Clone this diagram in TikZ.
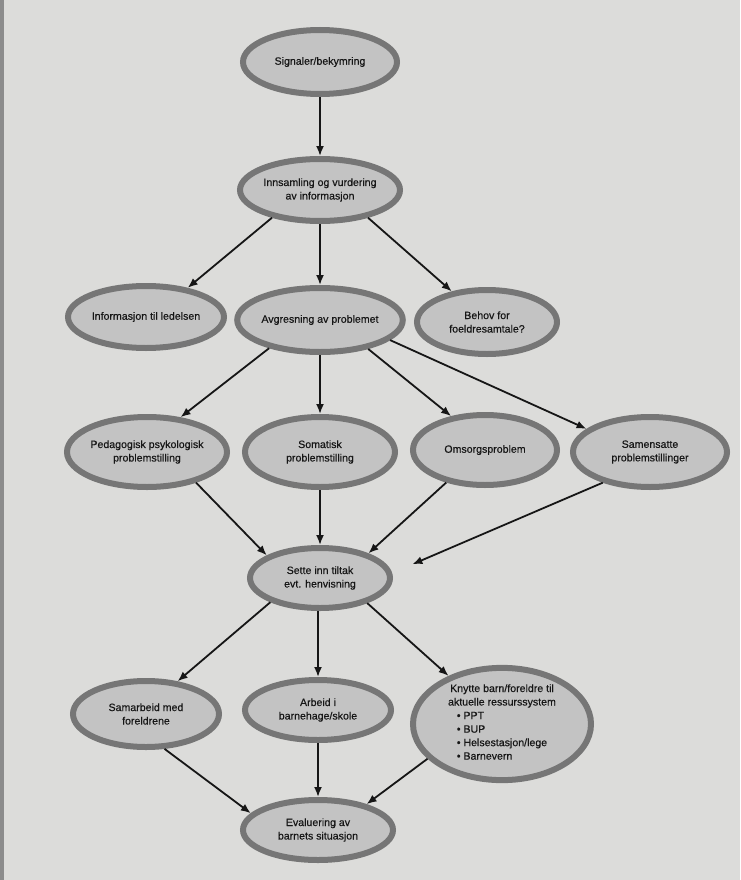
\documentclass[tikz,border=0pt]{standalone}
\usepackage{fontspec}
\setmainfont[FakeBold=0.4,AutoFakeBold=0.4]{Liberation Sans}
\usetikzlibrary{shapes.geometric,arrows.meta}
\definecolor{paper}{HTML}{DCDCDA}
\definecolor{rim}{HTML}{767676}
\definecolor{core}{HTML}{C3C3C3}
\definecolor{ink}{HTML}{161616}
\tikzset{
  bubble/.style={ellipse, draw=rim, line width=6pt, fill=core, inner sep=0pt,
    align=center, text=ink, font=\fontsize{10.6}{13.5}\selectfont\bfseries},
  flow/.style={draw=ink, line width=1.8pt, -{Latex[length=10pt,width=8pt]}},
}
\begin{document}
\begin{tikzpicture}[x=1pt,y=-1pt]
\fill[paper] (0,0) rectangle (740,880);
\fill[black!45] (0,0) rectangle (4,880);
\useasboundingbox (0,0) rectangle (740,880);

\node[bubble, minimum width=154pt, minimum height=64pt] (sig) at (320,62) {Signaler/bekymring};
\node[bubble, minimum width=150pt, minimum height=62pt] (inn) at (320,190) {Innsamling og vurdering\\av informasjon};

\node[bubble, minimum width=156pt, minimum height=62pt] (info) at (146,317) {Informasjon til ledelsen};
\node[bubble, minimum width=150pt, minimum height=64pt] (avg) at (320,320) {Avgresning av problemet};
\node[bubble, minimum width=140pt, minimum height=64pt] (beh) at (487,322) {Behov for\\foeldresamtale?};

\node[bubble, minimum width=158pt, minimum height=70pt] (ped) at (147,452) {Pedagogisk psykologisk\\problemstilling};
\node[bubble, minimum width=150pt, minimum height=70pt] (som) at (320,452) {Somatisk\\problemstilling};
\node[bubble, minimum width=144pt, minimum height=70pt] (oms) at (485,450) {Omsorgsproblem};
\node[bubble, minimum width=154pt, minimum height=70pt] (sam) at (650,452) {Samensatte\\problemstillinger};

\node[bubble, minimum width=140pt, minimum height=60pt] (sett) at (320,578) {Sette inn tiltak\\evt. henvisning};

\node[bubble, minimum width=146pt, minimum height=66pt] (samb) at (146,714) {Samarbeid med\\foreldrene};
\node[bubble, minimum width=146pt, minimum height=60pt] (arb) at (318,710) {Arbeid i\\barnehage/skole};
\node[bubble, minimum width=178pt, minimum height=108pt] (kny) at (502,724) {Knytte barn/foreldre til\\aktuelle ressurssystem\\[1pt]
  \begin{tabular}{@{}l@{}}• PPT\\ • BUP\\ • Helsestasjon/lege\\ • Barnevern\end{tabular}};

\node[bubble, minimum width=150pt, minimum height=60pt] (eva) at (318,830) {Evaluering av\\barnets situasjon};

\draw[flow] (sig.south) -- (inn.north);
\draw[flow] (inn.210) -- (info.35);
\draw[flow] (inn.south) -- (avg.north);
\draw[flow] (inn.330) -- (beh.139);

\draw[flow] (avg.209) -- (ped.46);
\draw[flow] (avg.south) -- (som.north);
\draw[flow] (avg.329) -- (oms.135);
\draw[flow] (avg.344) -- (sam.160);

\draw[flow] (ped.328) -- (sett.157);
\draw[flow] (som.south) -- (sett.north);
\draw[flow] (oms.220) -- (sett.27);
\draw[flow, shorten >=22pt] (sam.213) -- (sett.4);

\draw[flow] (sett.206) -- (samb.46);
\draw[flow] (sett.south -| arb.north) -- (arb.north);
\draw[flow] (sett.332) -- (kny.138);

\draw[flow] (samb.298) -- (eva.166);
\draw[flow] (arb.south) -- (eva.north);
\draw[flow] (kny.205) -- (eva.28);
\end{tikzpicture}
\end{document}
